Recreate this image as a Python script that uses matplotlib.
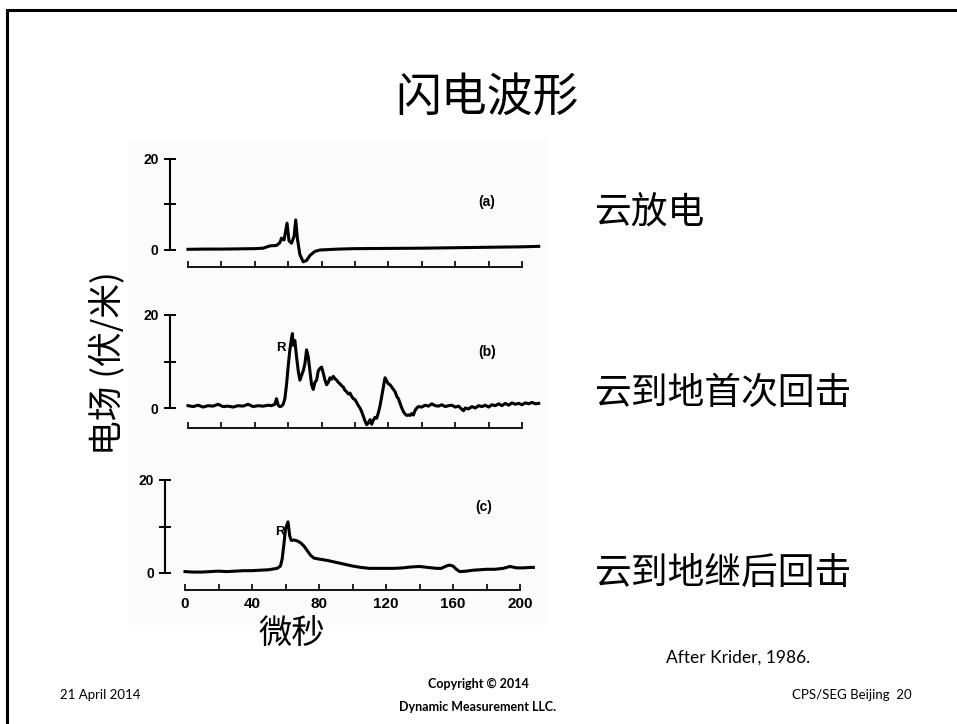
import matplotlib
matplotlib.use('Agg')
import matplotlib.pyplot as plt
from matplotlib.patches import Rectangle

plt.rcParams['font.family'] = ['Noto Sans CJK SC', 'DejaVu Sans']

# (a) cloud discharge
t_a = [0, 10, 20, 30, 40, 45, 49, 53, 55, 56, 57.5, 59.3, 60.5, 62, 63.5, 64.5, 65.5, 67, 69, 71, 73,
       76, 79, 90, 100, 120, 140, 160, 180, 200, 210]
e_a = [0.15, 0.2, 0.2, 0.25, 0.3, 0.4, 0.9, 1.0, 1.6, 2.6, 2.2, 5.9, 2.0, 1.5, 3.0, 6.6, 2.5, -1.0, -2.6, -2.3,
       -1.2, -0.3, 0.0, 0.2, 0.3, 0.35, 0.4, 0.5, 0.6, 0.7, 0.8]

# (b) first return stroke
t_b = [0, 3, 6, 9, 12, 15, 18, 21, 24, 27, 30, 33, 36, 39, 42, 45, 48, 50, 52, 53, 54, 55, 56, 57, 58, 59,
       60, 61, 62, 62.5, 63, 64, 65, 66, 67, 68, 69, 70, 71, 72, 73, 74, 75, 76, 77, 78, 79, 80, 81, 82, 83,
       84, 85, 86, 87, 88, 89, 90, 91, 92, 93, 94, 95, 96, 97, 98, 99, 100, 101, 102, 103, 104, 105, 106,
       107, 108, 109, 110, 111, 112, 113, 114, 115, 116, 117, 118, 119, 120, 121, 122, 123, 124, 125, 126,
       127, 128, 129, 130, 131, 132, 133, 134, 135, 136, 137, 138, 140, 142, 144, 146, 148, 150, 152, 154,
       156, 158, 160, 162, 164, 165, 166, 168, 170, 172, 174, 176, 178, 180, 182, 184, 186, 188, 190, 192,
       194, 196, 198, 200, 202, 204, 206, 208, 210]
e_b = [0.5, 0.3, 0.6, 0.2, 0.5, 0.4, 0.8, 0.3, 0.4, 0.2, 0.5, 0.4, 0.8, 0.3, 0.5, 0.4, 0.6, 0.5, 0.8, 2.0,
       0.6, 0.3, 0.4, 0.8, 2.0, 5.0, 9.0, 12.5, 15.0, 16.0, 13.5, 14.5, 11.0, 8.0, 6.0, 7.0, 8.0, 9.5, 12.5,
       11.0, 8.0, 5.0, 4.0, 5.5, 6.0, 8.0, 8.5, 8.8, 7.5, 6.0, 5.0, 5.5, 6.5, 6.2, 6.8, 6.3, 6.0, 5.5, 5.2,
       4.8, 4.5, 3.8, 3.5, 3.0, 3.2, 2.5, 2.0, 1.8, 1.2, 0.5, 0.0, -0.8, -1.8, -2.8, -3.6, -3.2, -2.5, -3.5,
       -2.6, -2.0, -2.2, -1.0, 0.5, 2.5, 4.5, 6.5, 5.8, 5.2, 5.0, 4.5, 4.0, 3.5, 2.5, 2.0, 1.0, 0.0, -0.8,
       -1.3, -1.6, -1.5, -1.6, -1.2, -1.5, -0.5, 0.0, 0.3, 0.2, 0.6, 0.4, 0.9, 0.5, 0.4, 0.7, 0.3, 0.5, 0.6,
       0.2, 0.4, -0.3, -0.6, 0.0, -0.2, 0.3, 0.0, 0.5, 0.3, 0.6, 0.2, 0.7, 0.5, 0.9, 0.5, 1.0, 0.6, 1.1, 0.8,
       1.0, 0.7, 1.1, 0.9, 1.2, 0.9, 1.0]

# (c) subsequent return stroke
t_c = [0, 5, 10, 15, 20, 25, 30, 35, 40, 45, 50, 55, 57, 58, 59, 60, 61.5, 62.5, 63.5, 65, 67, 69, 71, 73,
       75, 77, 80, 85, 90, 95, 100, 105, 110, 115, 120, 125, 130, 135, 140, 145, 150, 153, 156, 158, 160,
       162, 164, 168, 172, 176, 180, 185, 190, 194, 198, 202, 206, 208]
e_c = [0.3, 0.2, 0.2, 0.3, 0.4, 0.3, 0.4, 0.5, 0.5, 0.6, 0.7, 1.0, 1.5, 3.0, 6.0, 9.5, 11.0, 8.0, 7.0, 7.1,
       6.9, 6.5, 5.8, 4.8, 3.8, 3.2, 3.0, 2.7, 2.3, 1.9, 1.5, 1.2, 1.0, 1.0, 1.0, 1.0, 1.1, 1.3, 1.4, 1.2,
       1.0, 1.0, 1.5, 1.7, 1.5, 0.8, 0.3, 0.4, 0.6, 0.7, 0.8, 0.8, 1.0, 1.4, 1.1, 1.1, 1.2, 1.2]

panel_tags = ['(a)', '(b)', '(c)']
side_labels = ['云放电', '云到地首次回击', '云到地继后回击']
y_ticks = [0, 10, 20]
y_ticklabels = ['0', '', '20']
x_major = [0, 40, 80, 120, 160, 200]
x_minor = [20, 60, 100, 140, 180]

W, H = 957, 724
fig = plt.figure(figsize=(W / 100, H / 100), dpi=100)
fig.patch.set_facecolor('white')

# slide frame (top and left edges visible)
fig.add_artist(Rectangle((7 / W, -0.1), 1.2, 1 - 10 / H + 0.1, transform=fig.transFigure,
                         fill=False, lw=2.2, ec='black'))
# faint scan background
fig.add_artist(Rectangle((128 / W, 1 - 625 / H), 420 / W, 485 / H, transform=fig.transFigure,
                         fc='#fbfbfb', ec='none', zorder=0))

# pixel geometry of each scanned panel: x of t=0, px per us, y of E=0, px per unit, spine offsets
panels = [
    dict(t=t_a, e=e_a, x0=188, sx=1.67, y0=250, sy=4.55, lx=-11, by=-3.7, tag=(174, 10.5), R=None),
    dict(t=t_b, e=e_b, x0=188, sx=1.67, y0=408, sy=4.65, lx=-11, by=-4.3, tag=(174, 12), R=(53, 12.9)),
    dict(t=t_c, e=e_c, x0=185, sx=1.675, y0=573, sy=4.65, lx=-11.9, by=-3.7, tag=(173, 14.2), R=(54, 8.8)),
]
xlim = (-20, 215)
ylim = (-6, 22)

for i, p in enumerate(panels):
    left = p['x0'] + xlim[0] * p['sx']
    width = (xlim[1] - xlim[0]) * p['sx']
    top = p['y0'] - ylim[1] * p['sy']
    height = (ylim[1] - ylim[0]) * p['sy']
    ax = fig.add_axes([left / W, 1 - (top + height) / H, width / W, height / H])
    ax.patch.set_alpha(0)
    ax.plot(p['t'], p['e'], color='black', lw=2.2, solid_joinstyle='round')
    ax.set_xlim(*xlim)
    ax.set_ylim(*ylim)
    for s in ['top', 'right']:
        ax.spines[s].set_visible(False)
    ax.spines['left'].set_position(('data', p['lx']))
    ax.spines['left'].set_bounds(0, 20)
    ax.spines['bottom'].set_position(('data', p['by']))
    ax.spines['bottom'].set_bounds(0, 200)
    ax.spines['left'].set_linewidth(1.5)
    ax.spines['bottom'].set_linewidth(1.3)
    ax.set_yticks(y_ticks)
    ax.set_yticklabels(y_ticklabels, fontfamily='Liberation Sans', fontweight='bold')
    ax.tick_params(axis='y', direction='inout', length=8, width=1.4, pad=4, labelsize=10)
    ax.set_xticks(x_major)
    ax.set_xticks(x_minor, minor=True)
    ax.tick_params(axis='x', which='both', direction='in', length=4, width=1.2)
    if i == 2:
        ax.set_xticklabels([str(v) for v in x_major], fontfamily='Liberation Sans', fontweight='bold')
        ax.tick_params(axis='x', labelsize=11, pad=5)
    else:
        ax.tick_params(axis='x', labelbottom=False)
    ax.text(p['tag'][0], p['tag'][1], panel_tags[i], fontsize=10, fontweight='bold',
            fontfamily='Liberation Sans', ha='left', va='center')
    if p['R'] is not None:
        ax.text(p['R'][0], p['R'][1], 'R', fontsize=9.5, fontweight='bold',
                fontfamily='Liberation Sans', ha='left', va='center')
    fig.text(595 / W, 1 - [213, 393, 573][i] / H, side_labels[i], fontsize=26.5,
             ha='left', va='center')

fig.text(487 / W, 1 - 98 / H, '闪电波形', fontsize=33, ha='center', va='center')
fig.text(107 / W, 1 - 363 / H, '电场 (伏/米)', fontsize=25, rotation=90, ha='center', va='center')
fig.text(292 / W, 1 - 633 / H, '微秒', fontsize=24, ha='center', va='center')

foot = ['Lato', 'DejaVu Sans']
fig.text(666 / W, 1 - 658 / H, 'After Krider, 1986.', fontsize=12.5, family=foot, ha='left', va='center')
fig.text(100 / W, 1 - 695 / H, '21 April 2014', fontsize=9.5, family=foot, ha='center', va='center')
fig.text(478 / W, 1 - 684 / H, 'Copyright © 2014', fontsize=9, family=foot, fontweight='bold',
         ha='center', va='center')
fig.text(478 / W, 1 - 707 / H, 'Dynamic Measurement LLC.', fontsize=9, family=foot, fontweight='bold',
         ha='center', va='center')
fig.text(912 / W, 1 - 695 / H, 'CPS/SEG Beijing  20', fontsize=9.5, family=foot, ha='right', va='center')

fig.savefig('out.png', dpi=100)
